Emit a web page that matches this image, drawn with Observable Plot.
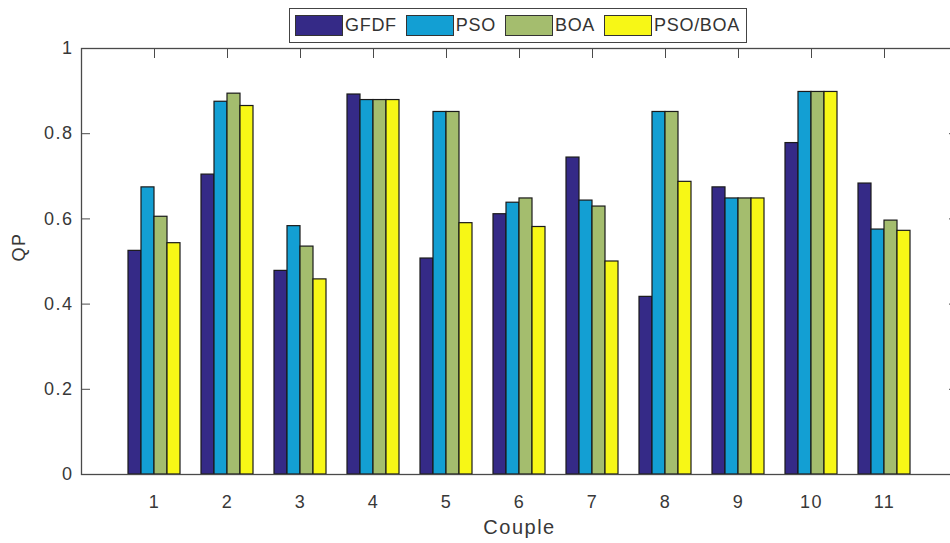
<!DOCTYPE html>
<html><head><meta charset="utf-8">
<script src="https://cdn.jsdelivr.net/npm/d3@7"></script>
<script src="https://cdn.jsdelivr.net/npm/@observablehq/plot@0.6"></script>
<style>
body{margin:0;background:#fff;overflow:hidden}
#wrap{position:relative;width:950px;height:543px;overflow:hidden;background:#fff}
#chart{width:958px}
#wrap svg{max-width:none !important}
#wrap svg text{letter-spacing:1.5px}
#legend{position:absolute;left:289px;top:8px;width:458px;height:35px;border:1px solid #444;background:#fff;box-sizing:border-box;display:flex;align-items:center;padding-left:5px;font-family:"Liberation Sans",Arial,sans-serif;font-size:18px;letter-spacing:0.7px;color:#333}
#legend .item{display:flex;align-items:center;margin-right:9px}
#legend .sw{width:46px;height:19px;border:1.5px solid #333;margin-right:2px}
</style>
</head><body>
<div id="wrap"><div id="chart"></div><div id="legend"></div></div>
<script>
const couples = [1,2,3,4,5,6,7,8,9,10,11];
const series = ["GFDF","PSO","BOA","PSO/BOA"];
const gfdf   = [0.525,0.704,0.478,0.892,0.507,0.611,0.744,0.417,0.674,0.778,0.683];
const pso    = [0.674,0.875,0.583,0.879,0.851,0.638,0.643,0.851,0.648,0.898,0.575];
const boa    = [0.605,0.894,0.535,0.879,0.851,0.648,0.629,0.851,0.648,0.898,0.596];
const psoboa = [0.543,0.865,0.458,0.879,0.590,0.581,0.500,0.687,0.648,0.898,0.572];
const yTicks = [0,0.2,0.4,0.6,0.8,1];
const colors = ["#352a87","#139fd3","#a4bd6e","#f7f716"];

const valuesBySeries = [gfdf, pso, boa, psoboa];
const table = series.flatMap((s,i)=>valuesBySeries[i].map((v,j)=>({couple:couples[j], series:s, value:v})));

const W = 958, H = 543, mL = 81, mR = 1, mT = 48, mB = 69;
const step = (W - mL - mR) / 12;
const bw = 52;
const pIn = 1 - bw/step;
const pOut = 0.5 + pIn/2;
const axisColor = "#4a4a4a";

const chart = Plot.plot({
  width: W, height: H,
  marginLeft: mL, marginRight: mR, marginTop: mT, marginBottom: mB,
  style: {fontFamily: '"Liberation Sans", Arial, sans-serif', fontSize: "18px", color: "#383838", background: "white", overflow: "visible", maxWidth: "none"},
  x: {type: "band", domain: couples, paddingInner: pIn, paddingOuter: pOut, align: 0.5},
  y: {domain: [0,1]},
  color: {domain: series, range: colors},
  marks: [
    Plot.axisX({anchor: "bottom", tickSize: -9, tickPadding: 30, stroke: axisColor, label: null}),
    Plot.axisX({anchor: "top", tickSize: -9, tickFormat: () => "", stroke: axisColor, label: null}),
    Plot.axisY({anchor: "left", ticks: yTicks, tickSize: -9, tickPadding: 17, tickFormat: d => String(d), stroke: axisColor, label: null}),
    Plot.axisY({anchor: "right", ticks: yTicks, tickSize: -9, tickFormat: () => "", stroke: axisColor, label: null}),
    ...series.map((s,i) => Plot.barY(table.filter(d => d.series === s), {
      x: "couple", y: "value", fill: "series",
      stroke: "#1a1a1a", strokeWidth: 1.2,
      insetLeft: i*bw/4, insetRight: (3-i)*bw/4
    })),
    Plot.frame({stroke: axisColor, strokeWidth: 1.3}),
    Plot.text(["Couple"], {text: d => d, frameAnchor: "bottom", dy: 59, fontSize: 20, fill: "#383838"}),
    Plot.text(["QP"], {text: d => d, frameAnchor: "left", dx: -62, rotate: -90, fontSize: 18, fill: "#383838"})
  ]
});
document.getElementById("chart").appendChild(chart);

const legend = document.getElementById("legend");
series.forEach((s,i) => {
  const item = document.createElement("div");
  item.className = "item";
  const sw = document.createElement("div");
  sw.className = "sw";
  sw.style.background = colors[i];
  const t = document.createElement("span");
  t.textContent = s;
  item.appendChild(sw); item.appendChild(t);
  legend.appendChild(item);
});
</script>
</body></html>
